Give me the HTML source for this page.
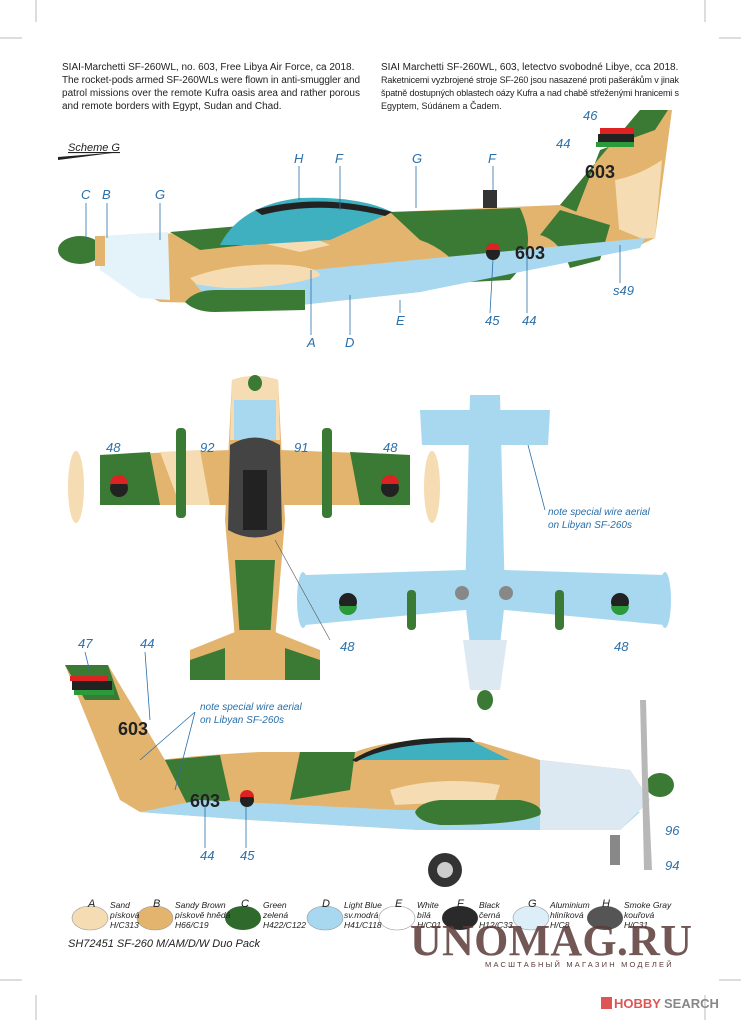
<!DOCTYPE html>
<html><head><meta charset="utf-8"><style>
body{margin:0;background:#fff;}
svg{display:block;}
.t{font-family:"Liberation Sans",sans-serif;}
.l{font-family:"Liberation Sans",sans-serif;font-style:italic;fill:#2a6fa8;font-size:13px;}
.k{font-family:"Liberation Sans",sans-serif;font-style:italic;fill:#222;font-size:8.5px;}
</style></head><body>
<svg width="741" height="1020" viewBox="0 0 741 1020" xmlns="http://www.w3.org/2000/svg">
<g stroke="#bbb" stroke-width="1">
<line x1="0" y1="38" x2="22" y2="38"/><line x1="36" y1="0" x2="36" y2="22"/>
<line x1="719" y1="38" x2="741" y2="38"/><line x1="705" y1="0" x2="705" y2="22"/>
<line x1="0" y1="980" x2="22" y2="980"/><line x1="36" y1="995" x2="36" y2="1020"/>
<line x1="719" y1="980" x2="741" y2="980"/><line x1="705" y1="995" x2="705" y2="1020"/>
</g>
<g class="t" font-size="10" fill="#222">
<text x="62" y="70">SIAI-Marchetti SF-260WL, no. 603, Free Libya Air Force, ca 2018.</text>
<text x="62" y="83" textLength="298">The rocket-pods armed SF-260WLs were flown in anti-smuggler and</text>
<text x="62" y="96" textLength="298">patrol missions over the remote Kufra oasis area and rather porous</text>
<text x="62" y="109">and remote borders with Egypt, Sudan and Chad.</text>
<text x="381" y="70">SIAI Marchetti SF-260WL, 603, letectvo svobodné Libye, cca 2018.</text>
<text x="381" y="83" font-size="9" textLength="298">Raketnicemi vyzbrojené stroje SF-260 jsou nasazené proti pašerákům v jinak</text>
<text x="381" y="96" font-size="9" textLength="298">špatně dostupných oblastech oázy Kufra a nad chabě střeženými hranicemi s</text>
<text x="381" y="109" font-size="9">Egyptem, Súdánem a Čadem.</text>
</g>
<text x="68" y="151" class="t" font-size="11" font-style="italic" fill="#222" text-decoration="underline">Scheme G</text>
<path d="M58 157 L120 152 L58 160Z" fill="#222"/>

<!-- TOP SIDE VIEW -->
<g>
<path d="M560 205 L640 110 L672 110 L655 238 L640 245Z" fill="#e3b46e"/>
<path d="M560 205 L640 110 L668 110 L655 130 L600 150 L575 215Z" fill="#3b7a34"/>
<path d="M615 180 Q640 175 662 160 L655 238 L620 240Z" fill="#f6dcb2"/>
<rect x="600" y="128" width="34" height="6" fill="#d22"/><rect x="598" y="134" width="36" height="8" fill="#222"/><rect x="596" y="142" width="38" height="5" fill="#2a9a3a"/>
<path d="M100 236 L210 232 L250 225 Q300 198 390 212 L560 205 L645 240 L420 292 L300 305 L160 302 L100 270Z" fill="#e3b46e"/>
<path d="M390 212 L520 208 Q540 250 510 280 L470 282 Q450 250 420 240 Z" fill="#3b7a34"/>
<path d="M170 232 L240 226 L245 245 L200 250Z" fill="#3b7a34"/>
<path d="M250 240 Q300 230 330 245 L300 252 Z" fill="#f6dcb2"/>
<path d="M560 210 L610 225 L600 260 L570 268 Q560 240 540 235Z" fill="#3b7a34"/>
<path d="M205 280 L645 238 L640 248 L420 292 L300 305 L200 300Z" fill="#a8d8f0"/>
<path d="M100 236 L168 232 L170 300 L140 298 L100 270Z" fill="#e4f2fa"/>
<ellipse cx="80" cy="250" rx="22" ry="14" fill="#3b7a34"/>
<rect x="95" y="236" width="10" height="30" fill="#e3b46e"/>
<path d="M220 245 Q240 205 300 198 Q360 196 392 212 L330 240 L250 245Z" fill="#3fb0c0"/>
<path d="M255 210 Q320 192 392 212 L385 216 Q320 200 262 215Z" fill="#222"/>
<path d="M190 278 Q230 262 290 265 Q320 268 320 276 Q280 290 200 288Z" fill="#f6dcb2"/>
<path d="M195 284 Q260 296 320 276 L305 295 L205 295Z" fill="#a8d8f0"/>
<path d="M185 302 Q195 290 215 290 L305 290 L305 310 L215 312 Q195 312 185 302Z" fill="#3b7a34"/>
<rect x="483" y="190" width="14" height="18" fill="#333"/>
<circle cx="493" cy="253" r="7" fill="#222"/><path d="M486 253 A7 7 0 0 1 500 253Z" fill="#d22" transform="translate(0,-3)"/>
<text x="515" y="259" class="t" font-size="18" font-weight="bold" fill="#222">603</text>
<text x="585" y="178" class="t" font-size="18" font-weight="bold" fill="#222">603</text>
</g>
<g class="l">
<text x="81" y="199">C</text><text x="102" y="199">B</text><text x="155" y="199">G</text>
<text x="294" y="163">H</text><text x="335" y="163">F</text><text x="412" y="163">G</text><text x="488" y="163">F</text>
<text x="556" y="148">44</text><text x="583" y="120">46</text>
<text x="307" y="347">A</text><text x="345" y="347">D</text><text x="396" y="325">E</text>
<text x="485" y="325">45</text><text x="522" y="325">44</text><text x="613" y="295">s49</text>
</g>
<g stroke="#2a6fa8" stroke-width="0.8">
<line x1="86" y1="203" x2="86" y2="240"/><line x1="107" y1="203" x2="107" y2="238"/><line x1="160" y1="203" x2="160" y2="240"/>
<line x1="299" y1="166" x2="299" y2="200"/><line x1="340" y1="166" x2="340" y2="210"/><line x1="416" y1="166" x2="416" y2="208"/><line x1="493" y1="166" x2="493" y2="190"/>
<line x1="311" y1="335" x2="311" y2="270"/><line x1="350" y1="335" x2="350" y2="295"/><line x1="400" y1="313" x2="400" y2="300"/>
<line x1="490" y1="313" x2="493" y2="260"/><line x1="527" y1="313" x2="527" y2="255"/><line x1="620" y1="283" x2="620" y2="245"/>
</g>

<!-- TOP VIEW -->
<g>
<path d="M100 455 L230 450 L230 505 L100 505Z" fill="#e3b46e"/>
<path d="M280 450 L410 455 L410 505 L280 505Z" fill="#e3b46e"/>
<path d="M100 455 L150 452 L160 505 L100 505Z" fill="#3b7a34"/>
<path d="M350 452 L410 455 L410 505 L360 505Z" fill="#3b7a34"/>
<path d="M160 452 L200 450 L210 505 L180 505Z" fill="#f6dcb2"/>
<ellipse cx="76" cy="487" rx="8" ry="36" fill="#f6dcb2"/><ellipse cx="432" cy="487" rx="8" ry="36" fill="#f6dcb2"/>
<rect x="176" y="428" width="10" height="90" rx="4" fill="#3b7a34"/><rect x="322" y="428" width="10" height="90" rx="4" fill="#3b7a34"/>
<path d="M232 380 Q255 372 278 380 L285 520 L275 640 L265 670 L245 670 L235 640 L225 520Z" fill="#e3b46e"/>
<path d="M232 380 Q255 372 278 380 L280 440 L230 440Z" fill="#f6dcb2"/>
<path d="M235 560 L275 560 L270 640 L240 640Z" fill="#3b7a34"/>
<rect x="234" y="400" width="42" height="40" fill="#a8d8f0"/>
<path d="M230 445 Q255 430 280 445 L282 530 Q255 545 228 530Z" fill="#444"/>
<rect x="243" y="470" width="24" height="60" fill="#222"/>
<path d="M190 650 L240 630 L270 630 L320 650 L320 680 L190 680Z" fill="#e3b46e"/>
<path d="M190 660 L225 648 L225 680 L190 680Z" fill="#3b7a34"/><path d="M285 648 L320 660 L320 680 L285 680Z" fill="#3b7a34"/>
<ellipse cx="255" cy="383" rx="7" ry="8" fill="#3b7a34"/>
<circle cx="119" cy="488" r="9" fill="#222"/><circle cx="390" cy="488" r="9" fill="#222"/>
<path d="M110 488 A9 9 0 0 1 128 488" fill="#d22" transform="translate(0,-4)"/><path d="M381 488 A9 9 0 0 1 399 488" fill="#d22" transform="translate(0,-4)"/>
</g>
<g class="l"><text x="106" y="452">48</text><text x="383" y="452">48</text><text x="200" y="452">92</text><text x="294" y="452">91</text></g>

<!-- BOTTOM VIEW -->
<g>
<path d="M420 410 L550 410 L548 445 L422 445Z" fill="#a8d8f0"/>
<path d="M470 395 L500 395 L505 600 L495 690 L475 690 L465 600Z" fill="#a8d8f0"/>
<path d="M305 575 L465 570 L505 570 L665 575 L665 625 L505 610 L465 610 L305 625Z" fill="#a8d8f0"/>
<ellipse cx="303" cy="600" rx="6" ry="28" fill="#a8d8f0"/><ellipse cx="665" cy="600" rx="6" ry="28" fill="#a8d8f0"/>
<rect x="407" y="590" width="9" height="40" rx="4" fill="#3b7a34"/><rect x="555" y="590" width="9" height="40" rx="4" fill="#3b7a34"/>
<path d="M463 640 L507 640 L500 690 L470 690Z" fill="#dce9f2"/>
<circle cx="462" cy="593" r="7" fill="#888"/><circle cx="506" cy="593" r="7" fill="#888"/>
<ellipse cx="485" cy="700" rx="8" ry="10" fill="#3b7a34"/>
<circle cx="348" cy="602" r="9" fill="#222"/><circle cx="620" cy="602" r="9" fill="#222"/>
<path d="M339 602 A9 9 0 0 0 357 602" fill="#2a9a3a" transform="translate(0,4)"/><path d="M611 602 A9 9 0 0 0 629 602" fill="#2a9a3a" transform="translate(0,4)"/>
</g>
<g class="l"><text x="340" y="651">48</text><text x="614" y="651">48</text></g>
<text x="548" y="515" class="t" font-size="10" font-style="italic" fill="#2a6fa8">note special wire aerial</text>
<text x="548" y="528" class="t" font-size="10" font-style="italic" fill="#2a6fa8">on Libyan SF-260s</text>
<line x1="545" y1="510" x2="528" y2="445" stroke="#2a6fa8" stroke-width="0.8"/>
<line x1="275" y1="540" x2="330" y2="640" stroke="#555" stroke-width="0.6"/>

<!-- BOTTOM SIDE VIEW -->
<g>
<path d="M65 665 L108 665 L165 760 L160 790 L120 800Z" fill="#e3b46e"/>
<path d="M65 665 L108 665 L120 700 L85 700Z" fill="#3b7a34"/>
<rect x="70" y="676" width="38" height="5" fill="#d22"/><rect x="72" y="681" width="40" height="9" fill="#222"/><rect x="74" y="690" width="40" height="5" fill="#2a9a3a"/>
<path d="M120 800 L160 760 Q200 755 260 752 L355 752 Q400 735 480 742 L540 760 L630 770 L650 800 L620 830 L420 830 L250 820 L140 812Z" fill="#e3b46e"/>
<path d="M165 760 L220 755 L230 800 L190 810 Z" fill="#3b7a34"/>
<path d="M300 752 L355 752 L350 790 L290 800 Z" fill="#3b7a34"/>
<path d="M140 812 L250 820 L420 830 L620 830 L640 812 L400 810 L200 800Z" fill="#a8d8f0"/>
<path d="M540 760 L630 770 L650 800 L620 830 L540 830Z" fill="#dce9f2"/>
<path d="M352 760 Q390 738 470 740 L510 760Z" fill="#3fb0c0"/>
<path d="M352 760 Q390 735 470 738 L475 742 Q390 742 356 762Z" fill="#222"/>
<path d="M390 790 Q440 775 500 785 L495 800 L395 805Z" fill="#f6dcb2"/>
<path d="M415 812 Q420 802 440 800 L520 800 Q545 805 540 815 Q520 825 440 825 Q418 822 415 812Z" fill="#3b7a34"/>
<ellipse cx="660" cy="785" rx="14" ry="12" fill="#3b7a34"/>
<path d="M640 700 L646 700 L648 780 L652 870 L644 870 L642 780Z" fill="#b8b8b8"/>
<circle cx="445" cy="870" r="17" fill="#333"/><circle cx="445" cy="870" r="8" fill="#ccc"/>
<rect x="610" y="835" width="10" height="30" fill="#888"/>
<circle cx="247" cy="800" r="7" fill="#222"/><path d="M240 800 A7 7 0 0 1 254 800" fill="#d22" transform="translate(0,-3)"/>
<text x="190" y="807" class="t" font-size="18" font-weight="bold" fill="#222">603</text>
<text x="118" y="735" class="t" font-size="18" font-weight="bold" fill="#222">603</text>
</g>
<g class="l"><text x="78" y="648">47</text><text x="140" y="648">44</text><text x="200" y="860">44</text><text x="240" y="860">45</text><text x="665" y="835">96</text><text x="665" y="870">94</text></g>
<text x="200" y="710" class="t" font-size="10" font-style="italic" fill="#2a6fa8">note special wire aerial</text>
<text x="200" y="723" class="t" font-size="10" font-style="italic" fill="#2a6fa8">on Libyan SF-260s</text>
<g stroke="#2a6fa8" stroke-width="0.8" fill="none">
<line x1="195" y1="712" x2="140" y2="760"/><line x1="195" y1="712" x2="175" y2="790"/>
<line x1="85" y1="652" x2="90" y2="672"/><line x1="145" y1="652" x2="150" y2="720"/>
<line x1="205" y1="848" x2="205" y2="805"/><line x1="246" y1="848" x2="246" y2="807"/>
</g>

<!-- LEGEND -->
<g>
<ellipse cx="90" cy="918" rx="18" ry="12" fill="#f6dcb2" stroke="#999" stroke-width="0.6"/>
<ellipse cx="155" cy="918" rx="18" ry="12" fill="#e3b46e" stroke="#999" stroke-width="0.6"/>
<ellipse cx="243" cy="918" rx="18" ry="12" fill="#2f6a2c"/>
<ellipse cx="325" cy="918" rx="18" ry="12" fill="#a8d8f0" stroke="#999" stroke-width="0.6"/>
<ellipse cx="397" cy="918" rx="18" ry="12" fill="#fff" stroke="#999" stroke-width="0.6"/>
<ellipse cx="460" cy="918" rx="18" ry="12" fill="#2a2a2a"/>
<ellipse cx="531" cy="918" rx="18" ry="12" fill="#dceef8" stroke="#999" stroke-width="0.6"/>
<ellipse cx="605" cy="918" rx="18" ry="12" fill="#555"/>
</g>
<g class="k">
<text x="88" y="907" font-size="11">A</text><text x="110" y="908">Sand</text><text x="110" y="918">písková</text><text x="110" y="928">H/C313</text>
<text x="153" y="907" font-size="11">B</text><text x="175" y="908">Sandy Brown</text><text x="175" y="918">pískově hnědá</text><text x="175" y="928">H66/C19</text>
<text x="241" y="907" font-size="11">C</text><text x="263" y="908">Green</text><text x="263" y="918">zelená</text><text x="263" y="928">H422/C122</text>
<text x="322" y="907" font-size="11">D</text><text x="344" y="908">Light Blue</text><text x="344" y="918">sv.modrá</text><text x="344" y="928">H41/C118</text>
<text x="395" y="907" font-size="11">E</text><text x="417" y="908">White</text><text x="417" y="918">bílá</text><text x="417" y="928">H/C01</text>
<text x="457" y="907" font-size="11">F</text><text x="479" y="908">Black</text><text x="479" y="918">černá</text><text x="479" y="928">H12/C33</text>
<text x="528" y="907" font-size="11">G</text><text x="550" y="908">Aluminium</text><text x="550" y="918">hliníková</text><text x="550" y="928">H/C8</text>
<text x="602" y="907" font-size="11">H</text><text x="624" y="908">Smoke Gray</text><text x="624" y="918">kouřová</text><text x="624" y="928">H/C31</text>
</g>
<text x="68" y="947" class="t" font-size="11" font-style="italic" fill="#222">SH72451 SF-260 M/AM/D/W Duo Pack</text>
<text x="410" y="955" font-family="Liberation Serif,serif" font-size="44" font-weight="bold" fill="#5a3a38" opacity="0.85" textLength="282">UNOMAG.RU</text>
<text x="485" y="967" class="t" font-size="7.5" fill="#5a3a38" letter-spacing="2.2">МАСШТАБНЫЙ МАГАЗИН МОДЕЛЕЙ</text>
<rect x="601" y="997" width="11" height="12" fill="#d55"/>
<text x="614" y="1008" class="t" font-size="13" font-weight="bold" fill="#d55">HOBBY</text><text x="664" y="1008" class="t" font-size="13" font-weight="bold" fill="#888">SEARCH</text>
</svg>
</body></html>
